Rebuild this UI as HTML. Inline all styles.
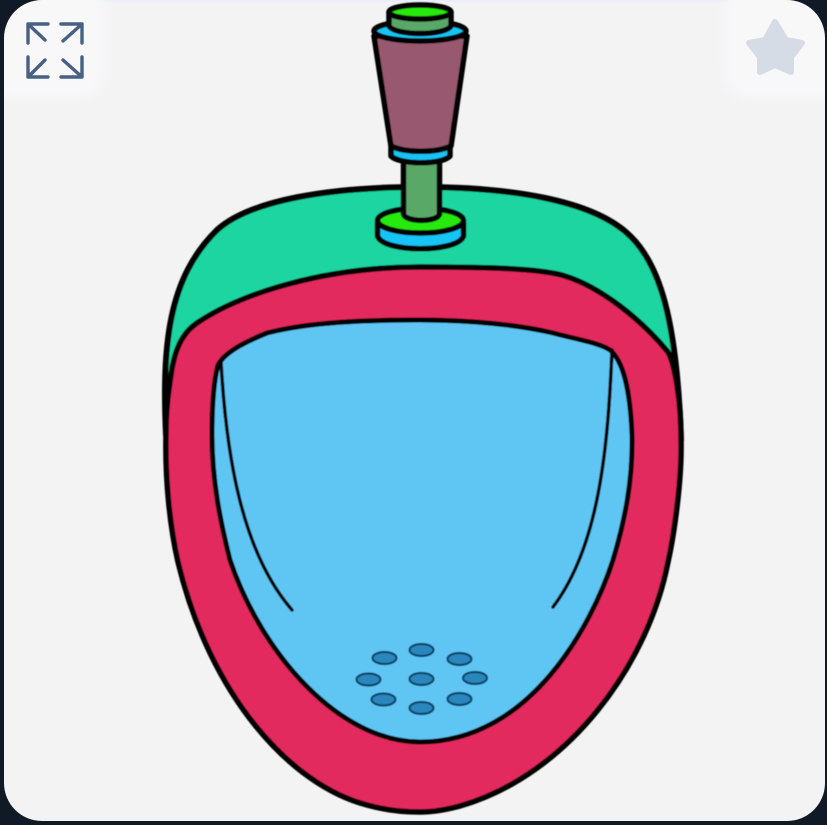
<!DOCTYPE html>
<html lang="en">
<head>
<meta charset="utf-8">
<title>Urinal illustration</title>
<style>
html,body{margin:0;padding:0;width:827px;height:825px;overflow:hidden;background:#0f1a26}
svg{display:block}
</style>
</head>
<body>
<svg width="827" height="825" viewBox="0 0 827 825" xmlns="http://www.w3.org/2000/svg">
  <defs>
    <filter id="soft" x="-5%" y="-5%" width="110%" height="110%"><feGaussianBlur stdDeviation="0.6"/></filter>
    <filter id="softer" x="-30%" y="-30%" width="160%" height="160%"><feGaussianBlur stdDeviation="5"/></filter>
  </defs>
  <rect width="827" height="825" fill="#0f1a26"/>
  <rect x="4" y="0" width="821" height="821" rx="38" ry="38" fill="#f4f3f4"/>
  <rect x="40" y="0" width="747" height="2" fill="#e9f0fa"/>

  <rect x="-20" y="-20" width="124" height="118" rx="24" fill="#f8f8f9" filter="url(#softer)"/>
  <rect x="726" y="-20" width="124" height="118" rx="24" fill="#f8f8f9" filter="url(#softer)"/>
  <path d="M42 0H4V38A38 38 0 0 1 42 0Z" fill="#0f1a26"/>
  <path d="M787 0H825V38A38 38 0 0 0 787 0Z" fill="#0f1a26"/>
  <rect x="825" y="0" width="2" height="825" fill="#0f1a26"/>
  <rect x="0" y="0" width="4" height="825" fill="#0f1a26"/>

  <g fill="none" stroke="#476084" stroke-width="3.400" stroke-linecap="round" stroke-linejoin="round">
    <path d="M28 43V24H48M28 24L45 40"/>
    <path d="M61 24H82V43M82 24L63 41"/>
    <path d="M28 57V77H48M28 77L45 60"/>
    <path d="M61 77H82V57M82 77L63 60"/>
  </g>

  <polygon points="775,22 765,40 749,43 760,57 760,72 775,65 791,72 791,57 802,43 786,40" fill="#d5dce5" stroke="#d5dce5" stroke-width="6" stroke-linejoin="round"/>

  <g filter="url(#soft)">
    <path d="M166 435C162 345 168 278 217 230C250 200 330 187 420 187C510 187 590 200 627 233C660 262 677 320 681 440Z" fill="#1bd5a0" stroke="#000" stroke-width="6" stroke-linejoin="round"/>

    <path d="M420 267C480 267 540 268 565 276C600 287 640 318 668 352C675 365 681 400 681 440C682 480 674 535 668 562C648 665 568 775 460 806C445 810 432 812 420 812C402 812 385 810 367 805C290 785 210 695 178 562C170 527 165 480 166 435C166 410 168 395 171 375C175 345 185 330 200 321C240 295 320 267 420 267Z" fill="#e32a5e" stroke="#000" stroke-width="5.500" stroke-linejoin="round"/>

    <path d="M420 320C470 320 520 325 553 333C575 339 600 343 610 350C622 360 630 385 632 435C633 480 625 520 613 560C592 625 530 742 420 742C340 742 262 655 230 560C220 520 212 480 212 435C212 400 214 380 218 365C225 352 245 342 267 333C310 322 365 320 420 320Z" fill="#5fc6f4" stroke="#000" stroke-width="5" stroke-linejoin="round"/>

    <path d="M221 362C226 450 240 550 292 610" fill="none" stroke="#000" stroke-width="3.500" stroke-linecap="round"/>
    <path d="M612 350C608 445 600 545 553 607" fill="none" stroke="#000" stroke-width="3.500" stroke-linecap="round"/>

    <g fill="#2c87bd" stroke="#0c4468" stroke-width="2.200">
      <ellipse cx="421.500" cy="650" rx="12" ry="6"/>
      <ellipse cx="384.500" cy="658" rx="12" ry="6"/>
      <ellipse cx="459.500" cy="659" rx="12" ry="6"/>
      <ellipse cx="368.500" cy="679.500" rx="12" ry="6"/>
      <ellipse cx="421.500" cy="679" rx="12" ry="6"/>
      <ellipse cx="475" cy="678" rx="12" ry="6"/>
      <ellipse cx="383.500" cy="699.500" rx="12" ry="6"/>
      <ellipse cx="459.500" cy="699" rx="12" ry="6"/>
      <ellipse cx="421.500" cy="708" rx="12" ry="6"/>
    </g>

    <g stroke="#000" stroke-width="5.500" stroke-linejoin="round">
      <path d="M377.500 223V236C383 253 458 253 463.500 236V223Z" fill="#18c4f5"/>
      <ellipse cx="420.500" cy="220.500" rx="43" ry="12.500" fill="#26ea08"/>
      <path d="M403.500 160V214C405 222.500 438 222.500 439.500 214V160Z" fill="#5aa868"/>
      <path d="M391 146V156C400 165 442 165 450 156V146Z" fill="#18c4f5"/>
      <path d="M374 36L391 146C405 153 437 153 451 146L467 36Z" fill="#97596f"/>
      <ellipse cx="420" cy="31" rx="46" ry="10" fill="#18c4f5"/>
      <path d="M389 13V26C395 36 445 36 451 26V13Z" fill="#5aa868"/>
      <ellipse cx="420" cy="12" rx="31" ry="7" fill="#26ea08"/>
    </g>
  </g>
</svg>
</body>
</html>
